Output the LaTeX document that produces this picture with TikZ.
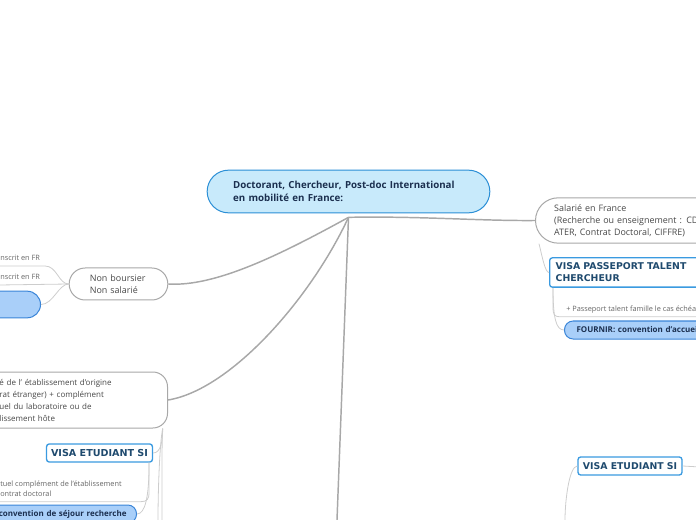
\documentclass[tikz,border=0pt]{standalone}
\usepackage{fontspec}
\setmainfont{Open Sans}
\newfontfamily\visafont{DejaVu Sans}
\definecolor{rootfill}{HTML}{C8EAFB}
\definecolor{rootline}{HTML}{2B8FD6}
\definecolor{navy}{HTML}{1B2F4F}
\definecolor{visablue}{HTML}{3A9AE0}
\definecolor{visatext}{HTML}{1F4A6E}
\definecolor{fournirfill}{HTML}{A9CFF9}
\definecolor{fournirline}{HTML}{3A85D8}
\definecolor{branch}{HTML}{A8A8A8}
\definecolor{twig}{HTML}{CDCDCD}
\tikzset{
  root/.style={draw=rootline, fill=rootfill, line width=0.75pt, rounded corners=16pt, text=navy,
    font=\bfseries\fontsize{7.3}{9.75}\selectfont, align=left},
  topic/.style={draw=branch, line width=0.75pt, text=black!72, font=\fontsize{6.7}{9}\selectfont, align=left},
  visa/.style={draw=visablue, line width=1pt, fill=white, rounded corners=2pt, text=visatext,
    font=\visafont\bfseries\fontsize{7}{9}\selectfont, align=left, minimum height=13.5pt},
  fournir/.style={draw=fournirline, line width=0.75pt, fill=fournirfill, text=navy,
    font=\bfseries\fontsize{6}{7}\selectfont, minimum height=13.5pt, rounded corners=6.5pt},
  note/.style={text=black!60, font=\fontsize{5.5}{7.5}\selectfont, inner sep=0pt, align=left},
  branchline/.style={draw=branch, line width=1.1pt},
  twigline/.style={draw=twig, line width=0.6pt},
}
\begin{document}
\begin{tikzpicture}[x=0.75pt,y=-0.75pt]
  \useasboundingbox (0,0) rectangle (696,520);
  \clip (0,0) rectangle (696,520);
  % centre
  \node[root, minimum width=212pt, minimum height=32pt, text width=173pt] (root) at (348.5,191.5)
    {Doctorant, Chercheur, Post-doc International\\en mobilité en France:};
  \coordinate (hub) at ([yshift=-3pt]root.south);
  % left
  \node[topic, rounded corners=12pt, minimum width=74pt, minimum height=24pt, text width=43pt] (nonb) at (118.5,284)
    {Non boursier\\Non salarié};
  \node[note, anchor=west] (ifr1) at (0,258) {nscrit en FR};
  \node[note, anchor=west] (ifr2) at (0,277) {nscrit en FR};
  \node[fournir, anchor=east, minimum width=60pt, minimum height=20pt, rounded corners=10pt] (blueL) at (41,304.5) {};
  \node[topic, font=\fontsize{6}{9}\selectfont, rounded corners=11pt, anchor=east, minimum height=42pt,
    text width=111pt, inner xsep=15pt] (etab) at (168,400)
    {é de l' établissement d'origine\\rat étranger) + complément\\uel du laboratoire ou de\\lissement hôte};
  \node[visa, font=\visafont\bfseries\fontsize{7.2}{9}\selectfont, minimum width=78.75pt] (visaL) at (99.5,453) {VISA ETUDIANT SI};
  \node[note, anchor=west] (cmpl) at (0,488.5) {tuel complément de l'établissement\\ontrat doctoral};
  \node[fournir, anchor=east, text width=140pt, align=right, inner xsep=7.5pt] (conv) at (137,514)
    {convention de séjour recherche};
  % right
  \node[topic, rounded corners=17pt, anchor=west, minimum height=34pt, text width=200pt, inner xsep=14pt] (salarie) at (535,220.5)
    {Salarié en France\\(Recherche ou enseignement : CD\\ATER, Contrat Doctoral, CIFFRE)};
  \node[visa, anchor=west, minimum height=22pt, text width=150pt, inner xsep=4.5pt] (passeport) at (549,272.5)
    {VISA PASSEPORT TALENT\\CHERCHEUR};
  \node[note, anchor=west] (famille) at (566,310) {+ Passeport talent famille le cas échéa};
  \node[fournir, anchor=west, text width=150pt, inner xsep=9pt] (fournirR) at (564,330) {FOURNIR: convention d'accueil};
  \node[visa, minimum width=78pt] (visaR) at (630,466) {VISA ETUDIANT SI};
  % free ends
  \coordinate (down) at (337,520);
  \coordinate (etabdown1) at (158,520);
  \coordinate (etabdown2) at (162,520);
  \coordinate (visaRup) at (565,520);
  \coordinate (visaRout) at (700,467);

  \draw[branchline] (hub) .. controls (280,255) and (215,287) .. (nonb.east);
  \draw[branchline] (hub) .. controls (310,300) and (230,390) .. (etab.east);
  \draw[branchline] (hub) -- (down);
  \draw[branchline] (hub) .. controls (420,216) and (480,221) .. (salarie.west);

  \draw[twigline] ([yshift=-4pt]ifr1.base west) -- ++(45,0) .. controls +(12,0) and +(-10,0) .. (nonb.west);
  \draw[twigline] ([yshift=-4pt]ifr2.base west) -- (nonb.west);
  \draw[twigline] (blueL.east) .. controls +(12,0) and +(-10,0) .. (nonb.west);
  \draw[twigline] ([xshift=-4pt]etab.south east) .. controls +(0,12) and +(8,0) .. (visaL.east);
  \draw[twigline] ([xshift=-4pt]etab.south east) .. controls +(-3,15) and +(0,-30) .. (etabdown1);
  \draw[twigline] ([xshift=-4pt]etab.south east) .. controls +(-1,15) and +(0,-30) .. (etabdown2);
  \draw[twigline] ([xshift=-3pt]visaL.south east) -- ++(0,30) .. controls +(0,6) and +(6,0) .. ++(-8,9) -- ++(-150,0);
  \draw[twigline] ([xshift=-3pt]visaL.south east) .. controls +(0,35) and +(8,0) .. (conv.east);

  \draw[twigline] ([xshift=3pt]salarie.south west) .. controls +(3,12) and +(-4,0) .. (passeport.west);
  \draw[twigline] ([xshift=3pt]passeport.south west) -- ++(0,20) .. controls +(0,6) and +(-6,0) .. ++(7,9) -- ++(150,0);
  \draw[twigline] ([xshift=3pt]passeport.south west) .. controls +(0,30) and +(-8,0) .. (fournirR.west);
  \draw[twigline] (visaR.west) .. controls +(-8,0) and +(0,-20) .. (visaRup);
  \draw[twigline] (visaR.east) -- (visaRout);
\end{tikzpicture}
\end{document}
